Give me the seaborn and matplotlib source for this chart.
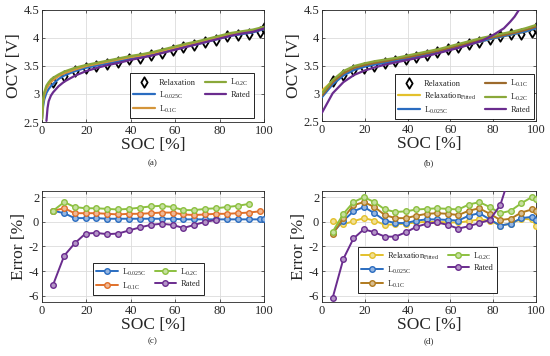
#!/usr/bin/env python3
#
# OCV curves and OCV error per method
#
import numpy as np
import matplotlib
matplotlib.use('Agg')
import matplotlib.pyplot as plt
import matplotlib.colors as mcolors
import seaborn as sns

# ---- data ---------------------------------------------------------------
# relaxation test points
soc_relax = [5, 10, 14.7, 19.6, 24.5, 29.4, 34.3, 39.2, 44.1, 49, 53.9, 58.8,
             63.7, 68.6, 73.5, 78.4, 83.3, 88.2, 93.1, 98, 100]
ocv_relax = [3.22, 3.33, 3.41, 3.46, 3.50, 3.54, 3.58, 3.62, 3.65, 3.69, 3.74,
             3.79, 3.84, 3.88, 3.92, 3.97, 4.03, 4.06, 4.07, 4.11, 4.17]

# (a) measured low-current OCV curves
soc_curve = [0, 0.5, 1, 2, 3, 4, 5, 7.5, 10, 15, 20, 25, 30, 35, 40, 45, 50,
             55, 60, 65, 70, 75, 80, 85, 90, 95, 100]
ocv_l0025 = [2.55, 2.78, 2.90, 3.02, 3.09, 3.14, 3.18, 3.27, 3.33, 3.41, 3.47,
             3.51, 3.55, 3.59, 3.63, 3.66, 3.70, 3.75, 3.80, 3.85, 3.89, 3.94,
             3.99, 4.04, 4.07, 4.10, 4.16]
ocv_l01 = [2.55, 2.85, 2.98, 3.10, 3.16, 3.21, 3.25, 3.32, 3.37, 3.44, 3.50,
           3.54, 3.58, 3.62, 3.66, 3.69, 3.73, 3.78, 3.83, 3.88, 3.92, 3.97,
           4.02, 4.07, 4.10, 4.13, 4.18]
ocv_l02 = [2.55, 2.90, 3.03, 3.15, 3.21, 3.26, 3.29, 3.35, 3.40, 3.47, 3.52,
           3.56, 3.60, 3.64, 3.68, 3.71, 3.75, 3.80, 3.85, 3.90, 3.94, 3.99,
           4.04, 4.09, 4.12, 4.15, 4.20]
soc_rated = [2, 2.5, 3, 4, 5, 7.5, 10, 15, 20, 25, 30, 35, 40, 45, 50, 55, 60,
             65, 70, 75, 80, 85, 90, 95, 100]
ocv_rated = [2.52, 2.75, 2.87, 2.97, 3.03, 3.14, 3.22, 3.33, 3.41, 3.47, 3.52,
             3.56, 3.61, 3.65, 3.69, 3.74, 3.79, 3.84, 3.89, 3.94, 3.99, 4.04,
             4.08, 4.11, 4.17]

# (b) fitted OCV curves
soc_fit = [0, 5, 10, 15, 20, 25, 30, 35, 40, 45, 50, 55, 60, 65, 70, 75, 80,
           85, 90, 95, 100]
fit_relax = [3.05, 3.22, 3.35, 3.44, 3.50, 3.54, 3.57, 3.60, 3.63, 3.67, 3.71,
             3.75, 3.79, 3.84, 3.89, 3.94, 3.99, 4.03, 4.07, 4.11, 4.17]
fit_l0025 = [2.93, 3.16, 3.32, 3.42, 3.48, 3.52, 3.55, 3.59, 3.62, 3.66, 3.70,
             3.74, 3.79, 3.84, 3.89, 3.94, 3.99, 4.03, 4.07, 4.11, 4.17]
fit_l01 = [2.96, 3.20, 3.36, 3.46, 3.51, 3.55, 3.58, 3.62, 3.65, 3.69, 3.73,
           3.77, 3.82, 3.87, 3.92, 3.97, 4.01, 4.05, 4.09, 4.14, 4.20]
fit_l02 = [3.00, 3.24, 3.40, 3.49, 3.54, 3.58, 3.61, 3.64, 3.68, 3.72, 3.76,
           3.80, 3.85, 3.90, 3.95, 4.00, 4.04, 4.08, 4.12, 4.17, 4.23]
soc_fit_rated = [0, 5, 10, 15, 20, 25, 30, 35, 40, 45, 50, 55, 60, 65, 70,
                 75, 80, 85, 88, 90, 92]
fit_rated = [2.65, 3.00, 3.20, 3.33, 3.41, 3.47, 3.52, 3.56, 3.60, 3.64, 3.68,
             3.73, 3.78, 3.83, 3.89, 3.95, 4.05, 4.17, 4.29, 4.38, 4.50]

# (c) error of measured curves [%]
soc_err = soc_relax
err_c_l0025 = [0.9, 0.7, 0.3, 0.3, 0.3, 0.25, 0.25, 0.25, 0.25, 0.25, 0.25,
               0.25, 0.2, 0.2, 0.2, 0.2, 0.2, 0.2, 0.2, 0.2, 0.2]
err_c_l01 = [0.9, 1.1, 0.7, 0.7, 0.7, 0.65, 0.6, 0.65, 0.65, 0.7, 0.75, 0.75,
             0.6, 0.55, 0.6, 0.65, 0.65, 0.7, 0.75, 0.85]
err_c_l02 = [0.9, 1.6, 1.2, 1.1, 1.1, 1.05, 1.0, 1.05, 1.15, 1.25, 1.3, 1.2,
             0.95, 0.95, 1.05, 1.1, 1.2, 1.3, 1.45]
err_c_rated = [-5.1, -2.75, -1.75, -0.95, -0.9, -1.0, -0.95, -0.7, -0.45,
               -0.25, -0.15, -0.25, -0.5, -0.25, 0.0, 0.15]

# (d) error of fitted curves [%]
err_d_relax = [0.05, -0.2, 0.05, 0.3, 0.1, -0.25, -0.2, -0.15, -0.05, 0.0,
               0.0, -0.05, -0.05, 0.05, 0.2, 0.1, -0.3, -0.15, 0.25, 0.2, -0.3]
err_d_l0025 = [-0.9, 0.1, 0.85, 1.2, 0.7, 0.1, -0.1, -0.1, 0.1, 0.2, 0.2,
               0.15, 0.1, 0.5, 0.7, 0.2, -0.3, -0.15, 0.3, 0.4, 0.15]
err_d_l01 = [-1.0, 0.3, 1.35, 1.6, 1.2, 0.55, 0.3, 0.3, 0.5, 0.65, 0.7, 0.65,
             0.55, 0.9, 1.1, 0.65, 0.15, 0.25, 0.75, 1.0, 0.85]
err_d_l02 = [-0.8, 0.65, 1.6, 2.0, 1.6, 1.0, 0.8, 0.85, 1.0, 1.05, 1.1, 1.05,
             1.0, 1.4, 1.6, 1.2, 0.7, 0.9, 1.5, 2.0, 1.85]
err_d_rated = [-6.15, -3.0, -1.35, -0.6, -0.85, -1.2, -1.2, -0.85, -0.4,
               -0.15, -0.05, -0.25, -0.55, -0.35, -0.1, 0.15, 1.35, 4.0]

lab_relax = 'Relaxation'
lab_fit = r'Relaxation$_{\mathrm{Fitted}}$'
lab_l0025 = r'L$_{\mathrm{0.025C}}$'
lab_l01 = r'L$_{\mathrm{0.1C}}$'
lab_l02 = r'L$_{\mathrm{0.2C}}$'
lab_rated = 'Rated'

# ---- style --------------------------------------------------------------
sns.set_style('ticks')
plt.rcParams['font.family'] = ['Liberation Serif', 'DejaVu Serif']
plt.rcParams['mathtext.fontset'] = 'custom'
plt.rcParams['mathtext.rm'] = 'Liberation Serif'
plt.rcParams['axes.unicode_minus'] = False

c_blue = '#2a6cc0'
c_yellow = '#e3c02c'
c_purple = '#6a2c8e'
c_green_a = '#8aa83a'
c_green_c = '#8cc040'
c_orange_a = '#d4953a'
c_orange_b = '#9c6a2c'
c_orange_c = '#e0702a'
c_orange_d = '#b07a1e'

fig = plt.figure(figsize=(5.5, 3.56), dpi=100)


def px_axes(x0, y0, x1, y1):
    return fig.add_axes([x0 / 550, 1 - y1 / 356, (x1 - x0) / 550,
                         (y1 - y0) / 356])


def style(ax, ylabel, ylim, yticks):
    ax.set_xlim(0, 100)
    ax.set_ylim(*ylim)
    ax.set_xticks([0, 20, 40, 60, 80, 100])
    ax.set_yticks(yticks)
    ax.grid(True, color='#dcdcdc', lw=0.6)
    ax.tick_params(direction='in', length=2, width=0.5, labelsize=9,
                   top=True, right=True, pad=2)
    for s in ax.spines.values():
        s.set_linewidth(0.6)
        s.set_color('#262626')
    ax.set_xlabel('SOC [%]', fontsize=12.5, labelpad=0)
    ax.set_ylabel(ylabel, fontsize=12.5, labelpad=1)


def legend(ax, x0, y1):
    leg = ax.legend(ncol=2, fontsize=6, loc='lower left',
                    bbox_to_anchor=(x0 / 550, 1 - y1 / 356),
                    bbox_transform=fig.transFigure, fancybox=False,
                    framealpha=1, edgecolor='black', borderpad=0.4,
                    handlelength=2.6, columnspacing=1.0, labelspacing=0.3,
                    handletextpad=0.5, borderaxespad=0)
    leg.get_frame().set_linewidth(0.6)


def relax_points(ax):
    sns.scatterplot(x=soc_relax, y=ocv_relax, ax=ax, marker='d', s=28,
                    color='white', edgecolor='black', linewidth=1.3,
                    label=lab_relax, zorder=2)


lw = 1.6

#
# (a) measured OCV curves
#
axa = px_axes(42, 10, 264, 122)
relax_points(axa)
sns.lineplot(x=soc_curve, y=ocv_l0025, ax=axa, color=c_blue, lw=lw,
             label=lab_l0025, zorder=3)
sns.lineplot(x=soc_curve, y=ocv_l01, ax=axa, color=c_orange_a, lw=lw,
             label=lab_l01, zorder=3)
sns.lineplot(x=soc_curve, y=ocv_l02, ax=axa, color=c_green_a, lw=lw,
             label=lab_l02, zorder=3)
sns.lineplot(x=soc_rated, y=ocv_rated, ax=axa, color=c_purple, lw=lw,
             label=lab_rated, zorder=3)
style(axa, 'OCV [V]', (2.5, 4.5), [2.5, 3, 3.5, 4, 4.5])
axa.set_yticklabels(['2.5', '3', '3.5', '4', '4.5'])
legend(axa, 130, 118)

#
# (b) fitted OCV curves
#
axb = px_axes(322, 10, 536, 121)
relax_points(axb)
sns.lineplot(x=soc_fit, y=fit_relax, ax=axb, color=c_yellow, lw=lw,
             label=lab_fit, zorder=3)
sns.lineplot(x=soc_fit, y=fit_l0025, ax=axb, color=c_blue, lw=lw,
             label=lab_l0025, zorder=3)
sns.lineplot(x=soc_fit, y=fit_l01, ax=axb, color=c_orange_b, lw=lw,
             label=lab_l01, zorder=3)
sns.lineplot(x=soc_fit, y=fit_l02, ax=axb, color=c_green_a, lw=lw,
             label=lab_l02, zorder=3)
sns.lineplot(x=soc_fit_rated, y=fit_rated, ax=axb, color=c_purple, lw=lw,
             label=lab_rated, zorder=3)
style(axb, 'OCV [V]', (2.5, 4.5), [2.5, 3, 3.5, 4, 4.5])
axb.set_yticklabels(['2.5', '3', '3.5', '4', '4.5'])
legend(axb, 395, 119)


def light(color, f=0.5):
    r, g, b = mcolors.to_rgb(color)
    return (r + (1 - r) * f, g + (1 - g) * f, b + (1 - b) * f)


def err_line(ax, y, color, label):
    sns.lineplot(x=soc_err[:len(y)], y=y, ax=ax, color=color, lw=1.4,
                 marker='o', markersize=4, markerfacecolor=light(color),
                 markeredgecolor=color, markeredgewidth=1.0,
                 label=label, zorder=3)


#
# (c) error, measured curves
#
axc = px_axes(42, 191, 264, 302)
err_line(axc, err_c_l0025, c_blue, lab_l0025)
err_line(axc, err_c_l01, c_orange_c, lab_l01)
err_line(axc, err_c_l02, c_green_c, lab_l02)
err_line(axc, err_c_rated, c_purple, lab_rated)
style(axc, 'Error [%]', (-6.5, 2.5), [-6, -4, -2, 0, 2])
legend(axc, 93, 295)

#
# (d) error, fitted curves
#
axd = px_axes(322, 191, 536, 302)
err_line(axd, err_d_relax, c_yellow, lab_fit)
err_line(axd, err_d_l0025, c_blue, lab_l0025)
err_line(axd, err_d_l01, c_orange_d, lab_l01)
err_line(axd, err_d_l02, c_green_c, lab_l02)
err_line(axd, err_d_rated, c_purple, lab_rated)
style(axd, 'Error [%]', (-6.5, 2.5), [-6, -4, -2, 0, 2])
legend(axd, 358, 293)

# captions
for x, y, t in [(153, 163, '(a)'), (429, 163, '(b)'),
                (153, 341, '(c)'), (429, 341, '(d)')]:
    fig.text(x / 550, 1 - y / 356, t, ha='center', va='center', fontsize=6.5)

plt.savefig('out.png', dpi=100)
